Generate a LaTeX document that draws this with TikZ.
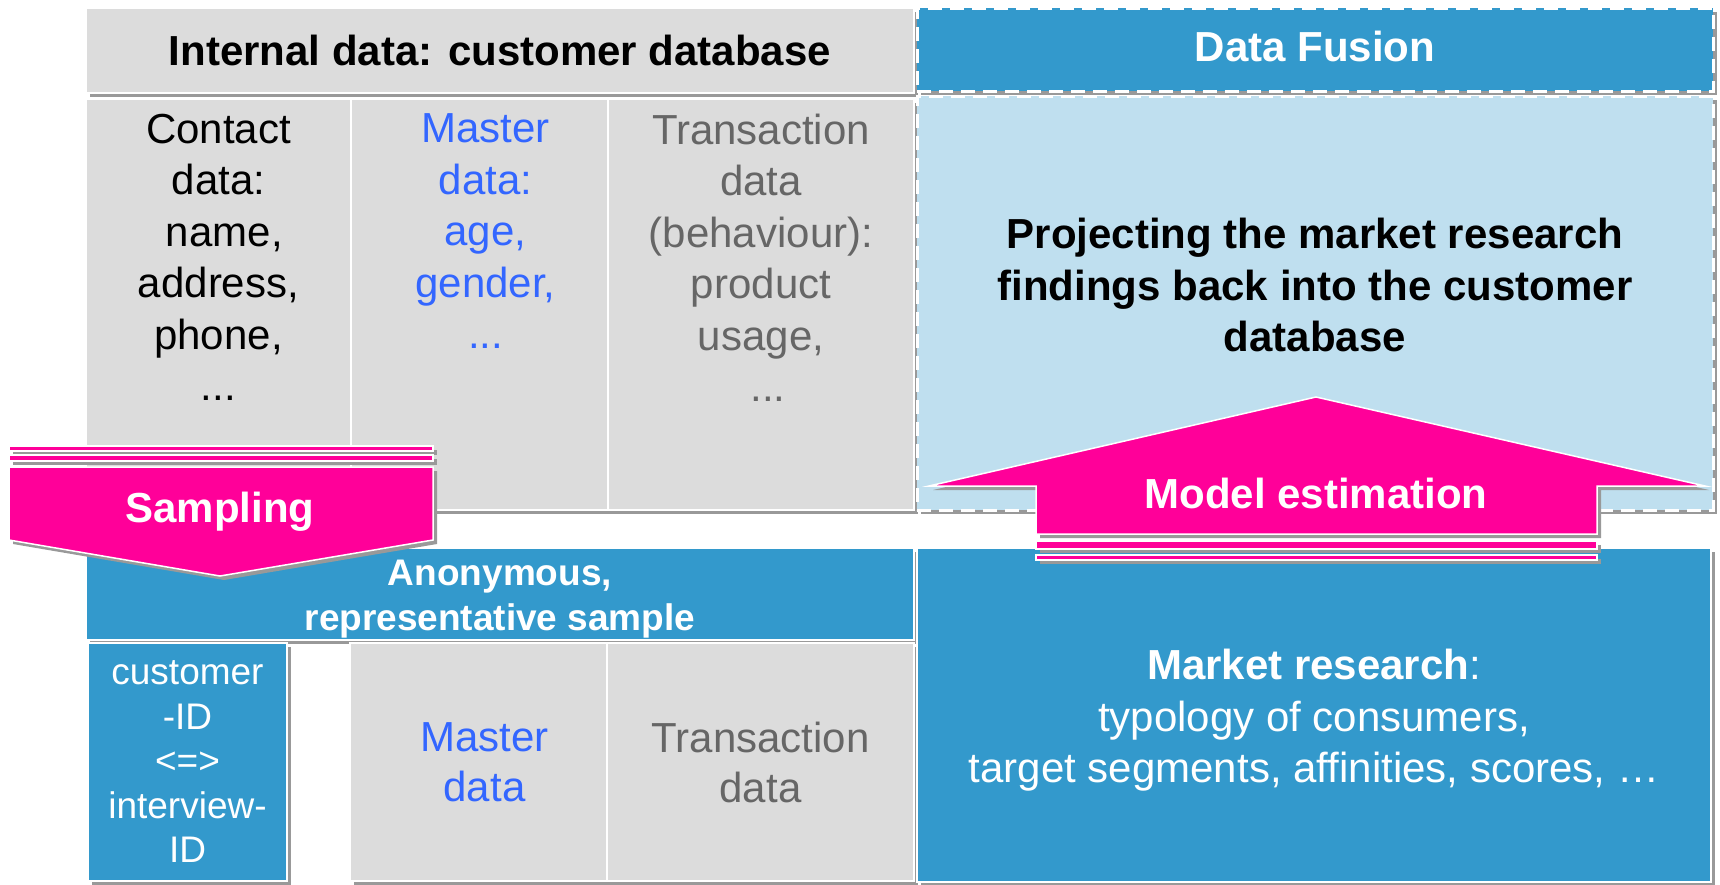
\documentclass[tikz,border=0pt]{standalone}
\usepackage{fontspec}
\setmainfont{Liberation Sans}
\usetikzlibrary{shadows,positioning}

\definecolor{dbgrey}{HTML}{DCDCDC}
\definecolor{fusionblue}{HTML}{3399CC}
\definecolor{paleblue}{HTML}{BFDFEF}
\definecolor{hotpink}{HTML}{FF0099}
\definecolor{masterblue}{HTML}{3366FF}
\definecolor{transgrey}{HTML}{666666}
\definecolor{shadowgrey}{HTML}{999999}

\newcommand\fsz[2]{\fontsize{#1pt}{#2pt}\selectfont}

\tikzset{
  boxshadow/.style={drop shadow={shadow xshift=4pt, shadow yshift=-4pt, fill=shadowgrey, opacity=1}},
  box/.style={draw=white, line width=1.5pt, inner sep=0pt, align=center, boxshadow},
  greybox/.style={box, fill=dbgrey},
  bluebox/.style={box, fill=fusionblue, text=white},
  fusionbox/.style={box, line width=3pt, dash pattern=on 14pt off 8pt},
  coltext/.style={anchor=north, inner sep=0pt, align=center, font=\fsz{42}{51.5}},
  boxtext/.style={inner sep=0pt, align=center},
  pinkarrow/.style={fill=hotpink, draw=white, line width=1.5pt, boxshadow},
  arrowtext/.style={anchor=base, inner sep=0pt, text=white, font=\fsz{42}{51.5}\bfseries},
}

\begin{document}
\begin{tikzpicture}[x=1pt, y=-1pt]
  \useasboundingbox (0,0) rectangle (1720,884);

  % internal data
  \node[greybox, minimum width=828pt, minimum height=85pt, font=\fsz{42}{51.5}\bfseries] (internal) at (500,50.5) {Internal data: customer database};
  \node[greybox, minimum width=265pt, minimum height=411pt] (contact) at (218.5,304.5) {};
  \node[greybox, minimum width=257pt, minimum height=411pt] (master) at (479.5,304.5) {};
  \node[greybox, minimum width=306pt, minimum height=411pt] (trans) at (761,304.5) {};
  \node[coltext] (contacttext) at ([yshift=-15.5pt]contact.north) {Contact\\data:\\\hspace*{11.7pt}name,\\address,\\phone,\\...};
  \node[coltext, text=masterblue] (mastertext) at ([xshift=6pt, yshift=-15.5pt]master.north) {Master\\data:\\age,\\gender,\\...};
  \node[coltext, text=transgrey] (transtext) at ([yshift=-15.5pt]trans.north) {Transaction\\data\\(behaviour):\\product\\usage,\\\hspace*{14pt}...};

  % sample
  \node[bluebox, minimum width=828pt, minimum height=92pt] (sample) at (500,594) {};
  \node[boxtext, text=white, font=\fsz{37}{45}\bfseries] (sampletext) at ([yshift=-5pt]sample.center) {Anonymous,\\representative sample};
  \node[bluebox, minimum width=199pt, minimum height=238pt, font=\fsz{37}{44.5}] (custid) at (187.5,762) {customer\\-ID\\<=>\\interview-\\ID};
  \node[greybox, minimum width=257pt, minimum height=238pt] (smaster) at (478.5,762) {};
  \node[boxtext, text=masterblue, font=\fsz{42}{50}] (smastertext) at ([xshift=6pt]smaster.center) {Master\\data};
  \node[greybox, minimum width=307pt, minimum height=238pt, text=transgrey, font=\fsz{42}{50}] (strans) at (760.5,762) {Transaction\\data};

  % data fusion
  \node[fusionbox, fill=fusionblue, minimum width=796pt, minimum height=83pt] (fusion) at (1315,49.5) {};
  \node[boxtext, text=white, font=\fsz{42}{51.5}\bfseries] (fusiontext) at ([yshift=3pt]fusion.center) {Data Fusion};
  \node[fusionbox, fill=paleblue, minimum width=796pt, minimum height=414pt] (project) at (1315,303) {};
  \node[boxtext, font=\fsz{42}{51.5}\bfseries] (projtext) at (1315,285) {Projecting the market research\\findings back into the customer\\database};
  \node[bluebox, minimum width=794pt, minimum height=334pt] (market) at (1314,715) {};
  \node[boxtext, text=white, font=\fsz{42}{51.5}] (markettext) at ([yshift=-5.5pt]market.center) {\textbf{Market research}:\\typology of consumers,\hspace*{26pt}\\target segments, affinities, scores, …};

  % sampling arrow
  \filldraw[pinkarrow] (9,446) rectangle (433,451);
  \filldraw[pinkarrow] (9,455) rectangle (433,461);
  \filldraw[pinkarrow] (9,467) -- (433,467) -- (433,540) -- (220,576) -- (9,540) -- cycle;
  \node[arrowtext] (sampling) at (220,522) {Sampling};

  % model estimation arrow
  \filldraw[pinkarrow] (1036,541) rectangle (1597,549);
  \filldraw[pinkarrow] (1036,555) rectangle (1597,560);
  \filldraw[pinkarrow] (1036,534) -- (1036,486) -- (929,486) -- (1316,397) -- (1705,486) -- (1597,486) -- (1597,534) -- cycle;
  \node[arrowtext] (model) at (1316,508) {Model estimation};
\end{tikzpicture}
\end{document}
